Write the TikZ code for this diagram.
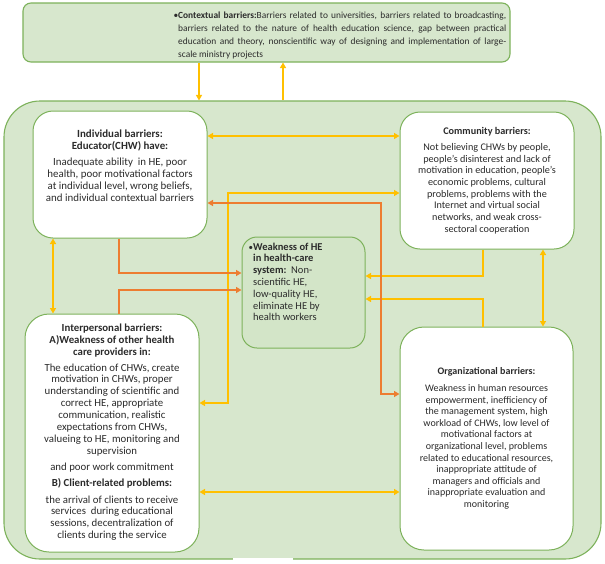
\documentclass[tikz,border=0pt]{standalone}
\usepackage{fontspec}
\setmainfont{Carlito}
\usetikzlibrary{arrows.meta}
\definecolor{gborder}{HTML}{7DB25B}
\definecolor{gfill}{HTML}{D7E7CD}
\definecolor{cfill}{HTML}{D3E5C8}
\definecolor{ylw}{HTML}{FFC000}
\definecolor{org}{HTML}{ED7D31}
\definecolor{txt}{HTML}{2B2B2B}
\begin{document}
\begin{tikzpicture}[x=1pt,y=-1pt,
  tip/.tip={Triangle[length=5.5pt,width=6pt]},
  panel/.style={draw=gborder, line width=1.1pt, rounded corners=#1, inner sep=0pt},
  whitebox/.style={draw=gborder, fill=white, line width=1pt, rounded corners=#1, inner sep=0pt},
  ylink/.style={draw=ylw, line width=1.6pt, -tip},
  ylinkb/.style={draw=ylw, line width=1.6pt, tip-tip},
  olink/.style={draw=org, line width=1.6pt, -tip},
  olinkb/.style={draw=org, line width=1.6pt, tip-tip},
  body/.style={align=center, text=txt, inner sep=0pt, anchor=north},
]
\useasboundingbox (0,0) rectangle (605,563);
\fill[white] (0,0) rectangle (605,563);

% panels
\node[panel=8pt, fill=gfill, minimum width=487pt, minimum height=59pt] (ctx) at (266.5,32.5) {};
\node[panel=36pt, fill=gfill, minimum width=597pt, minimum height=458pt] (outer) at (302.5,330) {};
\draw[white, line width=1.4pt] (233,559) -- (293,559);

% boxes
\node[whitebox=20pt, minimum width=174pt, minimum height=127pt] (ind) at (120,174.5) {};
\node[whitebox=20pt, minimum width=174pt, minimum height=137pt] (com) at (487,180.5) {};
\node[panel=15pt, fill=cfill, line width=1pt, minimum width=123pt, minimum height=111pt] (ctr) at (303.5,292.5) {};
\node[whitebox=24pt, minimum width=174pt, minimum height=238pt] (inter) at (112,433) {};
\node[whitebox=24pt, minimum width=173pt, minimum height=223pt] (org) at (486.5,438.5) {};

% texts
\node[inner sep=0pt, anchor=north west, text width=328pt, align=justify, text=txt,
  font=\fontsize{9.4}{13}\selectfont] (ctxt) at (178,12.2)
  {\llap{•}\textbf{Contextual barriers:}Barriers related to universities, barriers related to broadcasting,\linebreak
   barriers related to the nature of health education science, gap between practical\linebreak
   education and theory, nonscientific way of designing and implementation of large-\linebreak
   scale ministry projects};

\node[body, font=\fontsize{10.9}{12}\selectfont] (indt) at (120,129.6)
  {\textbf{Individual barriers:}\\\textbf{Educator(CHW) have:}\\[4pt]
   Inadequate ability\ \ in HE, poor\\health, poor motivational factors\\
   at individual level, wrong beliefs,\\and individual contextual barriers};

\node[body, font=\fontsize{10.2}{11.7}\selectfont] (comt) at (487,127)
  {\textbf{Community barriers:}\\[4.3pt]
   Not believing CHWs by people,\\people's disinterest and lack of\\
   motivation in education, people's\\economic problems, cultural\\
   problems, problems with the\\Internet and virtual social\\
   networks, and weak cross-\\sectoral cooperation};

\node[inner sep=0pt, anchor=north west, align=left, text=txt,
  font=\fontsize{10.5}{11.8}\selectfont] (ctrt) at (253,242.6)
  {\llap{\small•}\textbf{Weakness of HE}\\\textbf{in health-care}\\\textbf{system:}\ \ Non-\\
   scientific HE,\\low-quality HE,\\eliminate HE by\\health workers};

\node[body, font=\fontsize{10.8}{11.9}\selectfont] (intt) at (112,323.6)
  {\textbf{Interpersonal barriers:}\\\textbf{A)Weakness of other health}\\\textbf{care providers in:}\\[4pt]
   The education of CHWs, create\\motivation in CHWs, proper\\
   understanding of scientific and\\correct HE, appropriate\\
   communication, realistic\\expectations from CHWs,\\
   valueing to HE, monitoring and\\supervision\\[4pt]
   and poor work commitment\\[4pt]
   \textbf{B) Client-related problems:}\\[5pt]
   the arrival of clients to receive\\services\ \ during educational\\
   sessions, decentralization of\\clients during the service};

\node[body, font=\fontsize{10}{11.6}\selectfont] (orgt) at (486.5,367.2)
  {\textbf{Organizational barriers:}\\[5.4pt]
   Weakness in human resources\\empowerment, inefficiency of\\
   the management system, high\\workload of CHWs, low level of\\
   motivational factors at\\organizational level, problems\\
   related to educational resources,\\inappropriate attitude of\\
   managers and officials and\\inappropriate evaluation and\\monitoring};

% yellow connectors
\draw[ylink] (ctx.south -| 199,0) -- (outer.north -| 199,0);
\draw[ylink] (outer.north -| 283,0) -- (ctx.south -| 283,0);
\draw[ylinkb] (ind.east |- 0,136) -- (com.west |- 0,136);
\draw[ylinkb] (com.west |- 0,193) -| (228,403) -- (inter.east |- 0,403);
\draw[ylinkb] (ind.south -| 53,0) -- (inter.north -| 53,0);
\draw[ylink] (com.south -| 483,0) |- (ctr.east |- 0,276);
\draw[ylink] (org.north -| 483,0) |- (ctr.east |- 0,299);
\draw[ylinkb] (com.south -| 543,0) -- (org.north -| 543,0);
\draw[ylinkb] (inter.east |- 0,492) -- (org.west |- 0,492);

% orange connectors
\draw[olinkb] (ind.east |- 0,203) -| (381,394) -- (org.west |- 0,394);
\draw[olink] (ind.south -| 119,0) |- (ctr.west |- 0,273);
\draw[olink] (inter.north -| 119,0) |- (ctr.west |- 0,290);
\end{tikzpicture}
\end{document}
